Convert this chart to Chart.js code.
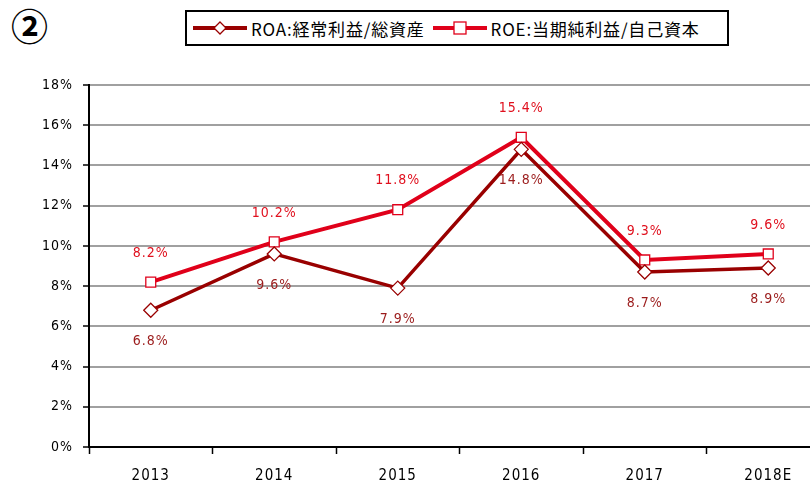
<!DOCTYPE html>
<html>
<head>
    <title>ROA / ROE</title>
    <script src="https://cdn.jsdelivr.net/npm/chart.js"></script>
    <style>
        body {
            margin: 0;
            background: #ffffff;
            overflow: hidden;
            width: 810px;
            height: 485px;
            position: relative;
            font-family: "DejaVu Sans Condensed", "Noto Sans CJK JP", sans-serif;
        }
        #mark {
            position: absolute;
            left: 11px;
            top: 0px;
            font-size: 37px;
            font-weight: bold;
            line-height: 50px;
            font-family: "Noto Sans CJK JP", sans-serif;
        }
        #legend {
            position: absolute;
            left: 185px;
            top: 10px;
            width: 540px;
            height: 32px;
            border: 2px solid #000;
            display: flex;
            align-items: center;
            font-family: "Noto Sans CJK JP", sans-serif;
            font-size: 17px;
            letter-spacing: 0.8px;
            color: #000;
            box-sizing: content-box;
        }
        .item {
            display: flex;
            align-items: center;
            margin-left: 6px;
            white-space: nowrap;
        }
        .item svg {
            margin-right: 4px;
        }
        #wrap {
            position: absolute;
            left: 0;
            top: 0;
            width: 840px;
            height: 485px;
        }
    </style>
</head>
<body>
    <div id="mark">②</div>
    <div id="legend">
        <div class="item">
            <svg width="54" height="14"><line x1="0" y1="7" x2="54" y2="7" stroke="#990000" stroke-width="4"/><polygon points="27,1 33,7 27,13 21,7" fill="#fff" stroke="#990000" stroke-width="1.3"/></svg>
            <span>ROA:経常利益/総資産</span>
        </div>
        <div class="item" style="margin-left:8px">
            <svg width="54" height="14"><line x1="0" y1="7" x2="54" y2="7" stroke="#e0001a" stroke-width="4"/><rect x="21" y="1" width="12" height="12" fill="#fff" stroke="#e0001a" stroke-width="1.3"/></svg>
            <span>ROE:当期純利益/自己資本</span>
        </div>
    </div>
    <div id="wrap"><canvas id="chart" width="840" height="485"></canvas></div>

    <script>
        const years = ['2013', '2014', '2015', '2016', '2017', '2018E'];
        const roa = [6.8, 9.6, 7.9, 14.8, 8.7, 8.9];
        const roe = [8.2, 10.2, 11.8, 15.4, 9.3, 9.6];
        const yTicks = [0, 2, 4, 6, 8, 10, 12, 14, 16, 18];

        const roaColor = '#990000';
        const roeColor = '#e0001a';
        const numFont = '"DejaVu Sans Condensed", sans-serif';

        // a bit of letter spacing like the original
        const spacing = {
            id: 'spacing',
            beforeDraw(chart) { chart.ctx.letterSpacing = '1px'; }
        };

        // value labels: ROE above the points, ROA below
        const valueLabels = {
            id: 'valueLabels',
            afterDatasetsDraw(chart) {
                const ctx = chart.ctx;
                ctx.save();
                ctx.letterSpacing = '1px';
                ctx.font = '14px ' + numFont;
                ctx.textAlign = 'center';
                ctx.textBaseline = 'middle';
                chart.data.datasets.forEach((ds, i) => {
                    const meta = chart.getDatasetMeta(i);
                    meta.data.forEach((pt, j) => {
                        ctx.fillStyle = ds.labelColor;
                        const dy = ds.labelAbove ? -29 : 31;
                        ctx.fillText(ds.data[j].toFixed(1) + '%', pt.x, pt.y + dy);
                    });
                });
                ctx.restore();
            }
        };

        const ctx = document.getElementById('chart').getContext('2d');
        new Chart(ctx, {
            type: 'line',
            data: {
                labels: years,
                datasets: [
                    {
                        label: 'ROE',
                        data: roe,
                        borderColor: roeColor,
                        borderWidth: 4,
                        backgroundColor: '#ffffff',
                        pointStyle: 'rect',
                        pointRadius: 7,
                        pointBorderWidth: 1.3,
                        pointBorderColor: roeColor,
                        pointBackgroundColor: '#ffffff',
                        labelColor: '#e0101e',
                        labelAbove: true,
                        tension: 0,
                        order: 1
                    },
                    {
                        label: 'ROA',
                        data: roa,
                        borderColor: roaColor,
                        borderWidth: 3.5,
                        backgroundColor: '#ffffff',
                        pointStyle: 'rectRot',
                        pointRadius: 7,
                        pointBorderWidth: 1.3,
                        pointBorderColor: roaColor,
                        pointBackgroundColor: '#ffffff',
                        labelColor: '#9b1b1b',
                        labelAbove: false,
                        tension: 0,
                        order: 0
                    }
                ]
            },
            options: {
                responsive: false,
                animation: false,
                layout: { padding: { top: 85, right: 10, left: 0, bottom: 0 } },
                plugins: {
                    legend: { display: false },
                    tooltip: { enabled: false }
                },
                scales: {
                    x: {
                        offset: true,
                        grid: {
                            offset: true,
                            drawOnChartArea: false,
                            tickLength: 7,
                            tickColor: '#000',
                            tickWidth: 1.5
                        },
                        border: { color: '#000', width: 2 },
                        ticks: {
                            color: '#000',
                            padding: 13,
                            font: { family: numFont, size: 15 }
                        },
                        afterFit(scale) { scale.height = 38; }
                    },
                    y: {
                        min: 0,
                        max: 18,
                        afterBuildTicks(scale) { scale.ticks = yTicks.map(v => ({ value: v })); },
                        grid: {
                            color: '#a0a0a0',
                            lineWidth: 2,
                            tickLength: 6,
                            tickColor: '#000',
                            tickWidth: 1.5
                        },
                        border: { color: '#000', width: 2 },
                        ticks: {
                            color: '#000',
                            padding: 10,
                            font: { family: numFont, size: 14 },
                            callback: v => v + '%'
                        },
                        afterFit(scale) { scale.width = 89; }
                    }
                }
            },
            plugins: [spacing, valueLabels]
        });
    </script>
</body>
</html>
